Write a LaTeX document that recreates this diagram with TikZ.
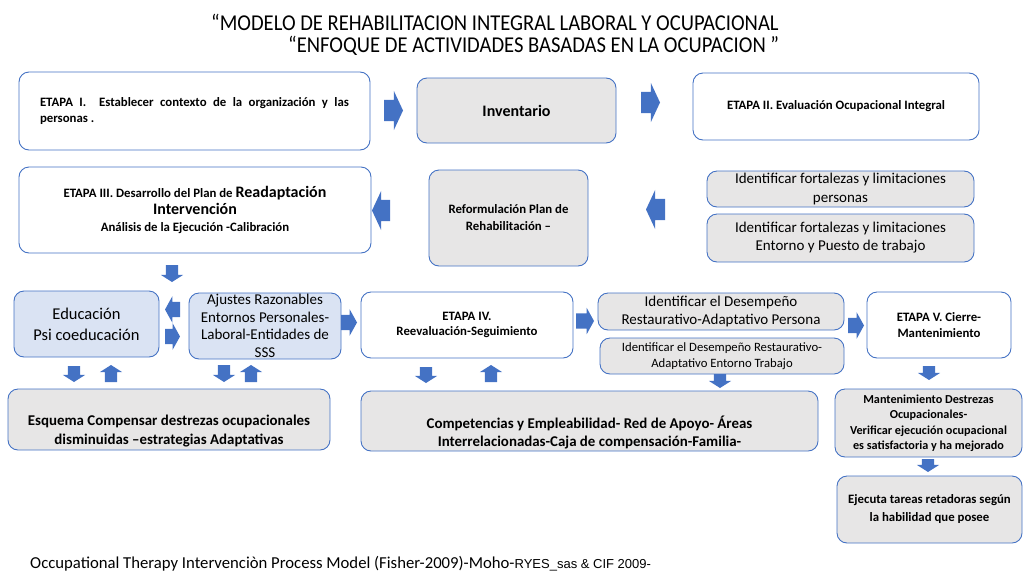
\documentclass[tikz,border=0pt]{standalone}
\usepackage{fontspec}
\setmainfont{Carlito}
\newfontfamily\arialfont{Liberation Sans}
\usepackage{xcolor}
\usetikzlibrary{shapes.arrows}
\definecolor{azulborde}{RGB}{68,114,196}
\definecolor{azulflecha}{RGB}{68,114,196}
\definecolor{grisfondo}{RGB}{231,230,230}
\definecolor{azulfondo}{RGB}{218,227,243}
\tikzset{
  caja/.style={draw=azulborde, line width=0.9pt, rounded corners=10pt, align=center, inner xsep=2pt, inner ysep=0pt},
  blanca/.style={caja, fill=white},
  gris/.style={caja, fill=grisfondo},
  celeste/.style={caja, fill=azulfondo},
  flecha/.style={single arrow, fill=azulflecha, draw=none, inner xsep=0pt, outer sep=0pt, anchor=tail},
  flechag/.style={flecha, inner ysep=10.5pt, single arrow tip angle=130, single arrow head extend=9pt},
  flechah/.style={flecha, inner ysep=7.5pt, single arrow tip angle=122, single arrow head extend=5.5pt},
  flechap/.style={flecha, inner ysep=6pt, single arrow tip angle=115, single arrow head extend=5pt}
}

\begin{document}
\begin{tikzpicture}[x=1pt,y=1pt,yscale=-1,xscale=1]
\useasboundingbox (0,0) rectangle (1024,576);

% Title
\node[anchor=base west, inner sep=0pt, font=\fontsize{20.6}{24}\selectfont] (titulo1) at (211,30) {\scalebox{1}[1.1]{“MODELO DE REHABILITACION INTEGRAL LABORAL Y OCUPACIONAL}};
\node[anchor=base west, inner sep=0pt, font=\fontsize{20.6}{24}\selectfont] (titulo2) at (288,52.5) {\scalebox{1}[1.1]{“ENFOQUE DE ACTIVIDADES BASADAS EN LA OCUPACION ”}};

% Row 1
\node[blanca, minimum width=351pt, minimum height=78pt, text width=309pt, align=justify, font=\fontsize{12.8}{16}\selectfont\bfseries] (etapa1) at (194.5,111) {ETAPA I.\ \ Establecer contexto de la organización y las\linebreak personas .};
\node[gris, minimum width=199pt, minimum height=65pt, font=\fontsize{16}{19}\selectfont\bfseries] (inventario) at (516.5,110.5) {Inventario};
\node[blanca, minimum width=286pt, minimum height=67pt, font=\fontsize{12.8}{15}\selectfont\bfseries] (etapa2) at (836,106.5) {ETAPA II. Evaluación Ocupacional Integral};

% Row 2
\node[blanca, minimum width=352pt, minimum height=86pt, font=\fontsize{12.8}{17}\selectfont\bfseries] (etapa3) at (195,210) {ETAPA III. Desarrollo del Plan de {\fontsize{16}{17}\selectfont Readaptación}\\{\fontsize{16}{17}\selectfont Intervención}\\Análisis de la Ejecución -Calibración};
\node[gris, minimum width=159pt, minimum height=96pt, font=\fontsize{12.8}{17}\selectfont\bfseries] (reformula) at (508.5,218) {Reformulación Plan de\\Rehabilitación –};
\node[gris, minimum width=267pt, minimum height=36pt, inner ysep=-1pt, font=\fontsize{15}{19}\selectfont] (fortper) at (840.5,189) {Identificar fortalezas y limitaciones\\personas};
\node[gris, minimum width=267pt, minimum height=48pt, font=\fontsize{15}{18}\selectfont] (fortent) at (840.5,238) {Identificar fortalezas y limitaciones\\Entorno y Puesto de trabajo};

% Row 3
\node[celeste, minimum width=145pt, minimum height=66pt, font=\fontsize{16.5}{21}\selectfont] (educa) at (86.5,324) {Educación\\Psi coeducación};
\node[celeste, minimum width=152pt, minimum height=66pt, inner ysep=-2pt, font=\fontsize{15}{17.5}\selectfont] (ajustes) at (265,326) {Ajustes Razonables\\Entornos Personales-\\Laboral-Entidades de\\SSS};
\node[blanca, minimum width=212pt, minimum height=66pt, font=\fontsize{12.8}{15}\selectfont\bfseries] (etapa4) at (467,325) {ETAPA IV.\\Reevaluación-Seguimiento};
\node[gris, minimum width=246pt, minimum height=37pt, inner ysep=-1pt, font=\fontsize{15}{18}\selectfont] (desper) at (721,311.5) {Identificar el Desempeño\\Restaurativo-Adaptativo Persona};
\node[gris, minimum width=244pt, minimum height=36pt, font=\fontsize{12.7}{15.5}\selectfont] (desent) at (722,356) {Identificar el Desempeño Restaurativo-\\Adaptativo Entorno Trabajo};
\node[blanca, minimum width=144pt, minimum height=66pt, font=\fontsize{12.8}{16}\selectfont\bfseries] (etapa5) at (939,325) {ETAPA V. Cierre-\\Mantenimiento};

% Row 4
\node[gris, minimum width=322pt, minimum height=61pt, font=\fontsize{14.9}{19}\selectfont\bfseries] (esquema) at (169,419.5) {\rule{0pt}{33pt}Esquema Compensar destrezas ocupacionales\\disminuidas –estrategias Adaptativas};
\node[gris, minimum width=457pt, minimum height=60pt, font=\fontsize{14.9}{18.5}\selectfont\bfseries] (compet) at (589.5,421) {\rule{0pt}{35pt}Competencias y Empleabilidad- Red de Apoyo- Áreas\\Interrelacionadas-Caja de compensación-Familia-};
\node[gris, minimum width=187pt, minimum height=68pt, font=\fontsize{12.2}{15.5}\selectfont\bfseries] (manten) at (928.5,423) {Mantenimiento Destrezas\\Ocupacionales-\\Verificar ejecución ocupacional\\es satisfactoria y ha mejorado};
\node[gris, minimum width=185pt, minimum height=67pt, font=\fontsize{12.8}{18}\selectfont\bfseries] (ejecuta) at (929.5,509.5) {Ejecuta tareas retadoras según\\la habilidad que posee};

% Block arrows
\node[flechag, minimum height=19pt] (f1) at (384,110.5) {};
\node[flechag, minimum height=19pt] (f2) at (641,102.5) {};
\node[flechag, rotate=180, minimum height=19pt] (f3) at (665,209.5) {};
\node[flechag, rotate=180, minimum height=18pt] (f4) at (390,210.5) {};
\node[flechap, rotate=-90, minimum height=17pt] (f5) at (172,265) {};
\node[flechah, rotate=180, minimum height=15pt] (f6) at (180,309.5) {};
\node[flechah, minimum height=15pt] (f7) at (165,336.5) {};
\node[flechah, minimum height=16pt] (f8) at (341,322.5) {};
\node[flechah, minimum height=18pt] (f9) at (576,321) {};
\node[flechah, minimum height=16pt] (f10) at (848,325.5) {};
\node[flechap, rotate=-90, minimum height=16pt] (f11) at (74,366) {};
\node[flechap, rotate=90, minimum height=17pt] (f12) at (111,382) {};
\node[flechap, rotate=-90, minimum height=17pt] (f13) at (224,365) {};
\node[flechap, rotate=90, minimum height=17pt] (f14) at (251,382) {};
\node[flechap, rotate=-90, minimum height=16pt] (f15) at (426,367) {};
\node[flechap, rotate=90, minimum height=17pt] (f16) at (491,382) {};
\node[flechap, rotate=-90, minimum height=14pt] (f17) at (720,374) {};
\node[flechap, rotate=-90, minimum height=14pt] (f18) at (929,366) {};
\node[flechap, rotate=-90, minimum height=13pt] (f19) at (928,459) {};

% Footer
\node[anchor=base west, inner sep=0pt, font=\fontsize{16.7}{20}\selectfont] (pie) at (30,568) {Occupational Therapy Intervenciòn Process Model (Fisher-2009)-Moho-{\arialfont\fontsize{13}{15}\selectfont RYES\_sas \& CIF 2009-}};

\end{tikzpicture}
\end{document}
